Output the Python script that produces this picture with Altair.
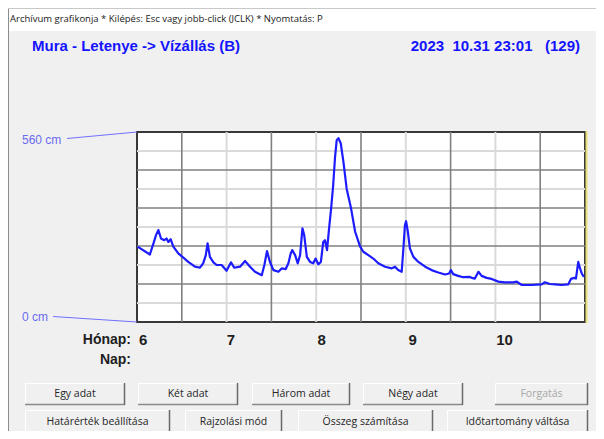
import altair as alt
import pandas as pd

# ---------------- data ----------------
day = [0.2, 4.4, 5.6, 6.5, 7.3, 8.2, 9.3, 10.1, 10.7, 11.5, 12.4, 14.1, 15.8, 17.5, 19.8, 21.5,
       22.6, 23.5, 24.1, 24.9, 26.1, 27.2, 28.9, 30.6, 32.1, 33.2, 35.2, 36.9, 38.6, 40.3, 42.6,
       43.5, 44.4, 45.4, 46.6, 48.3, 49.4, 50.8, 51.7, 52.5, 53.0, 54.0, 54.9, 55.7, 56.5, 57.1,
       58.0, 59.1, 60.2, 61.0, 61.9, 62.8, 63.6, 64.2, 64.9, 65.6, 66.3, 67.0, 67.6, 68.2, 68.8,
       69.6, 70.5, 71.6, 73.1, 74.5, 76.2, 77.3, 79.0, 80.7, 82.4, 84.7, 87.0, 88.1, 89.2, 90.4,
       90.9, 91.5, 91.9, 92.5, 93.2, 94.4, 96.1, 98.4, 100.6, 102.9, 105.2, 106.6, 107.2, 108.0,
       109.7, 111.4, 113.7, 114.3, 115.4, 116.6, 117.7, 119.4, 121.1, 123.4, 125.7, 128.5, 129.7,
       131.4, 134.8, 138.2, 139.3, 141.0, 142.8, 145.0, 147.3, 148.2, 149.3, 149.9, 150.7, 151.3,
       151.9, 152.6]
level_cm = [222, 199, 231, 256, 271, 246, 241, 246, 236, 244, 222, 202, 190, 177, 163, 160,
            173, 197, 232, 192, 176, 168, 168, 151, 176, 160, 163, 180, 163, 148, 138,
            168, 209, 177, 153, 148, 158, 156, 173, 202, 212, 197, 173, 197, 276, 256,
            192, 177, 173, 187, 170, 177, 236, 241, 212, 276, 335, 403, 482, 536, 542,
            526, 472, 393, 335, 266, 222, 207, 197, 187, 173, 163, 158, 163, 153, 148,
            207, 285, 297, 266, 217, 192, 177, 163, 153, 146, 140, 143, 153, 141,
            136, 132, 133, 130, 128, 148, 136, 130, 127, 119, 117, 117, 119,
            109, 109, 111, 117, 112, 111, 109, 111, 127, 130, 128, 177, 158,
            143, 133]

month_labels = ["6", "7", "8", "9", "10"]
month_start_day = [0, 30, 61, 92, 122]
grid_major_day = [15.3, 45.9, 76.5, 107.1, 137.7]
grid_minor_day = [30.6, 61.2, 91.8, 122.4]
grid_major_cm = [112, 224, 336, 448]
grid_minor_cm = [56, 168, 280, 392, 504]
range_values = [560, 0]
range_labels = ["560 cm", "0 cm"]

NB = "\u00a0"
window_text = "Archívum grafikonja * Kilépés: Esc vagy jobb-click (JCLK) * Nyomtatás: P"
title_text = "Mura - Letenye -> Vízállás (B)"
stamp_text = "2023" + NB + NB + "10.31 23:01" + NB + NB + NB + "(129)"
axis_captions = ["Hónap:", "Nap:"]
button_row1 = ["Egy adat", "Két adat", "Három adat", "Négy adat", "Forgatás"]
button_row2 = ["Határérték beállítása", "Rajzolási mód", "Összeg számítása", "Időtartomány váltása"]

assert len(day) == len(level_cm)

# ---------------- layout (page pixels) ----------------
PX0, PY0 = 137, 132          # plot area top-left on the page
W, H = 448, 190              # plot area size
row1_x = [(25, 125), (138, 238), (252, 350), (363, 463), (495, 588)]
row2_x = [(25, 170), (185, 282), (298, 433), (447, 588)]
row1_y = (383, 405)
row2_y = (410, 433)

def vx(px):
    return px - PX0

def vy(py):
    return py - PY0

xs = alt.Scale(domain=[0, 153], nice=False, zero=False)
ys = alt.Scale(domain=[0, 560], nice=False, zero=False)

# ---------------- plot layers ----------------
series = pd.DataFrame({"day": day, "level": level_cm})
minor_x = pd.DataFrame({"d": grid_minor_day})
major_x = pd.DataFrame({"d": grid_major_day})
minor_y = pd.DataFrame({"v": grid_minor_cm})
major_y = pd.DataFrame({"v": grid_major_cm})
months = pd.DataFrame({"d": month_start_day, "m": month_labels})
ranges = pd.DataFrame({"v": range_values, "t": range_labels})

g_minor_x = alt.Chart(minor_x).mark_rule(color="#dadada", strokeWidth=2).encode(
    x=alt.X("d:Q", scale=xs, axis=None))
g_minor_y = alt.Chart(minor_y).mark_rule(color="#dadada", strokeWidth=2).encode(
    y=alt.Y("v:Q", scale=ys, axis=None))
g_major_x = alt.Chart(major_x).mark_rule(color="#808080", strokeWidth=1.6).encode(
    x=alt.X("d:Q", scale=xs, axis=None))
g_major_y = alt.Chart(major_y).mark_rule(color="#808080", strokeWidth=1.6).encode(
    y=alt.Y("v:Q", scale=ys, axis=None))

line = alt.Chart(series).mark_line(color="#1c1cff", strokeWidth=2.2, strokeJoin="round").encode(
    x=alt.X("day:Q", scale=xs, axis=None),
    y=alt.Y("level:Q", scale=ys, axis=None))

month_text = alt.Chart(months).mark_text(
    align="left", baseline="middle", dx=2, fontSize=15, fontWeight="bold",
    font="Liberation Sans", color="#1e1e1e").encode(
    x=alt.X("d:Q", scale=xs, axis=None), y=alt.value(vy(340)), text="m:N")

top_label = alt.Chart(ranges).transform_filter("datum.v > 0").mark_text(
    align="left", baseline="middle", dy=8, fontSize=12, font="Liberation Sans",
    color="#6a6af0").encode(
    x=alt.value(vx(22)), y=alt.Y("v:Q", scale=ys, axis=None), text="t:N")
bottom_label = alt.Chart(ranges).transform_filter("datum.v == 0").mark_text(
    align="left", baseline="middle", dy=-5, fontSize=12, font="Liberation Sans",
    color="#6a6af0").encode(
    x=alt.value(vx(22)), y=alt.Y("v:Q", scale=ys, axis=None), text="t:N")

top_conn = alt.Chart(ranges).transform_filter("datum.v > 0").mark_rule(
    color="#7070ff", strokeWidth=1.2, yOffset=6.5, y2Offset=0).encode(
    x=alt.value(vx(67)), x2=alt.value(0),
    y=alt.Y("v:Q", scale=ys, axis=None), y2="v:Q")
bottom_conn = alt.Chart(ranges).transform_filter("datum.v == 0").mark_rule(
    color="#7070ff", strokeWidth=1.2, yOffset=-5.5, y2Offset=0).encode(
    x=alt.value(vx(53)), x2=alt.value(0),
    y=alt.Y("v:Q", scale=ys, axis=None), y2="v:Q")

plot = alt.layer(g_minor_x, g_minor_y, g_major_x, g_major_y, line, month_text,
                 top_label, bottom_label, top_conn, bottom_conn)

# ---------------- window decoration ----------------
rects = []
segs = []
btn_text = []
for labels, xs_, (y0, y1) in ((button_row1, row1_x, row1_y), (button_row2, row2_x, row2_y)):
    for lab, (x0, x1) in zip(labels, xs_):
        rects.append({"x0": vx(x0), "x1": vx(x1), "y0": vy(y0), "y1": vy(y1), "f": "#f0f0f0"})
        segs.append({"x0": vx(x0), "x1": vx(x1), "y0": vy(y0) + 0.5, "y1": vy(y0) + 0.5, "c": "#ffffff", "w": 1})
        segs.append({"x0": vx(x0) + 0.5, "x1": vx(x0) + 0.5, "y0": vy(y0), "y1": vy(y1), "c": "#ffffff", "w": 1})
        segs.append({"x0": vx(x0), "x1": vx(x1), "y0": vy(y1) - 0.5, "y1": vy(y1) - 0.5, "c": "#8a8a8a", "w": 1.5})
        segs.append({"x0": vx(x1) - 0.5, "x1": vx(x1) - 0.5, "y0": vy(y0), "y1": vy(y1), "c": "#6a6a6a", "w": 1.5})
        btn_text.append({"x": vx((x0 + x1) / 2), "y": vy((y0 + y1) / 2),
                         "t": lab, "c": "#a8a8a8" if lab == "Forgatás" else "#262626"})

rects.append({"x0": vx(8), "x1": vx(604), "y0": vy(8), "y1": vy(31), "f": "#ffffff"})
segs.append({"x0": vx(8.5), "x1": vx(8.5), "y0": vy(8), "y1": vy(439), "c": "#8c8c8c", "w": 1})
segs.append({"x0": vx(8), "x1": vx(604), "y0": vy(8.5), "y1": vy(8.5), "c": "#c8c8c8", "w": 1})
segs.append({"x0": W + 1.5, "x1": W + 1.5, "y0": -1, "y1": H + 1, "c": "#e9e07a", "w": 2})

none_x = lambda f: alt.X(f, scale=None, axis=None)
none_y = lambda f: alt.Y(f, scale=None, axis=None)

rect_layer = alt.Chart(pd.DataFrame(rects)).mark_rect().encode(
    x=none_x("x0:Q"), x2="x1:Q", y=none_y("y0:Q"), y2="y1:Q",
    fill=alt.Fill("f:N", scale=None))
seg_layer = alt.Chart(pd.DataFrame(segs)).mark_rule().encode(
    x=none_x("x0:Q"), x2="x1:Q", y=none_y("y0:Q"), y2="y1:Q",
    color=alt.Color("c:N", scale=None), strokeWidth=alt.StrokeWidth("w:Q", scale=None))
btn_layer = alt.Chart(pd.DataFrame(btn_text)).mark_text(
    fontSize=10.5, font="Open Sans", baseline="middle", align="center").encode(
    x=none_x("x:Q"), y=none_y("y:Q"), text="t:N", color=alt.Color("c:N", scale=None))

win_layer = alt.Chart(pd.DataFrame([{"x": vx(10), "y": vy(19), "t": window_text}])).mark_text(
    align="left", baseline="middle", fontSize=9.5, font="Open Sans", color="#202020").encode(
    x=none_x("x:Q"), y=none_y("y:Q"), text="t:N")
title_layer = alt.Chart(pd.DataFrame([{"x": vx(32), "y": vy(46), "t": title_text}])).mark_text(
    align="left", baseline="middle", fontSize=15, fontWeight="bold", font="Liberation Sans",
    color="#1414ff").encode(x=none_x("x:Q"), y=none_y("y:Q"), text="t:N")
stamp_layer = alt.Chart(pd.DataFrame([{"x": vx(580), "y": vy(46), "t": stamp_text}])).mark_text(
    align="right", baseline="middle", fontSize=15, fontWeight="bold", font="Liberation Sans",
    color="#1414ff").encode(x=none_x("x:Q"), y=none_y("y:Q"), text="t:N")
cap_layer = alt.Chart(pd.DataFrame([
    {"x": vx(131), "y": vy(340), "t": axis_captions[0]},
    {"x": vx(131), "y": vy(360), "t": axis_captions[1]},
])).mark_text(align="right", baseline="middle", fontSize=14, fontWeight="bold",
              font="Liberation Sans", color="#1e1e1e").encode(
    x=none_x("x:Q"), y=none_y("y:Q"), text="t:N")

deco = alt.layer(rect_layer, seg_layer, btn_layer, win_layer, title_layer, stamp_layer, cap_layer)

chart = alt.layer(deco, plot).resolve_scale(x="independent", y="independent").properties(
    width=W, height=H,
    padding={"left": PX0 - 8, "top": PY0 - 8, "right": 604 - 8 - PX0 - W + 8 - 8, "bottom": 439 - 8 - PY0 - H},
    autosize=alt.AutoSizeParams(type="none"),
    background="#f0f0f0",
).configure_view(fill="white", stroke="#383838", strokeWidth=2)

chart.save("out.html", embed_options={"renderer": "svg", "actions": False})
